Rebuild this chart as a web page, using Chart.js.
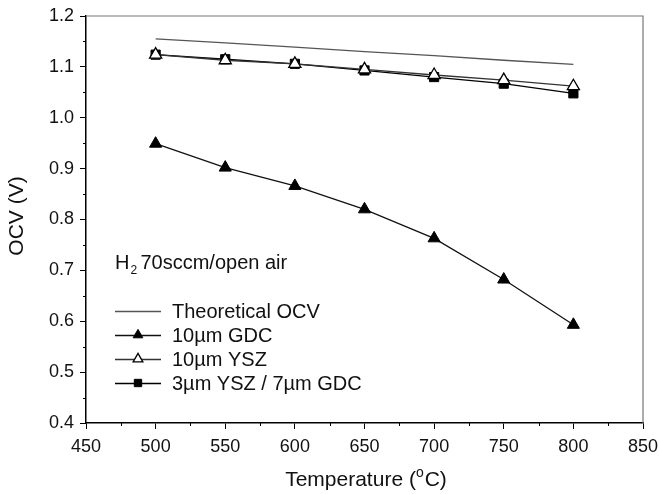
<!DOCTYPE html>
<html>
<head>
<meta charset="utf-8">
<script src="https://cdn.jsdelivr.net/npm/chart.js@4"></script>
<style>
  html, body { margin: 0; padding: 0; background: #fff; }
  #wrap { width: 659px; height: 494px; }
</style>
</head>
<body>
<div id="wrap"><canvas id="ocvChart"></canvas></div>
<script>
const temperatures = [500, 550, 600, 650, 700, 750, 800];
const theoreticalOcv = [1.155, 1.147, 1.139, 1.130, 1.122, 1.113, 1.105];
const gdcOcv = [0.949, 0.902, 0.866, 0.820, 0.763, 0.682, 0.593];
const yszOcv = [1.124, 1.113, 1.106, 1.095, 1.084, 1.074, 1.062];
const bilayerOcv = [1.124, 1.115, 1.106, 1.093, 1.080, 1.067, 1.048];

const seriesLabels = ['Theoretical OCV', '10\u00b5m GDC', '10\u00b5m YSZ', '3\u00b5m YSZ / 7\u00b5m GDC'];
const xTicks = [450, 500, 550, 600, 650, 700, 750, 800, 850];
const yTicks = [0.4, 0.5, 0.6, 0.7, 0.8, 0.9, 1.0, 1.1, 1.2];

const FONT = 'Liberation Sans, Arial, sans-serif';

const toPoints = values => temperatures.map((t, i) => ({ x: t, y: values[i] }));

// minor ticks, frame, titles, note and legend drawn by hand
const decorations = {
  id: 'decorations',
  afterDraw(chart) {
    const { ctx, chartArea: area, scales } = chart;
    const xs = scales.x;
    const ys = scales.y;
    ctx.save();

    // grey top / right frame
    ctx.strokeStyle = '#777';
    ctx.lineWidth = 1.2;
    ctx.beginPath();
    ctx.moveTo(area.left, area.top);
    ctx.lineTo(area.right, area.top);
    ctx.lineTo(area.right, area.bottom);
    ctx.stroke();

    // minor ticks
    ctx.strokeStyle = '#000';
    ctx.lineWidth = 1;
    ctx.beginPath();
    for (let i = 0; i < xTicks.length - 1; i += 1) {
      const px = Math.round(xs.getPixelForValue((xTicks[i] + xTicks[i + 1]) / 2)) + 0.5;
      ctx.moveTo(px, area.bottom);
      ctx.lineTo(px, area.bottom + 3);
    }
    for (let i = 0; i < yTicks.length - 1; i += 1) {
      const py = Math.round(ys.getPixelForValue((yTicks[i] + yTicks[i + 1]) / 2)) + 0.5;
      ctx.moveTo(area.left, py);
      ctx.lineTo(area.left - 3, py);
    }
    ctx.stroke();

    ctx.fillStyle = '#111';

    // x title with superscript o
    ctx.textBaseline = 'alphabetic';
    ctx.textAlign = 'left';
    const partA = 'Temperature (';
    const partB = 'C)';
    ctx.font = '21px ' + FONT;
    const wA = ctx.measureText(partA).width;
    const wB = ctx.measureText(partB).width;
    ctx.font = '14px ' + FONT;
    const wO = ctx.measureText('o').width;
    const total = wA + wO + 1 + wB;
    const tx = 366 - total / 2;
    const ty = 486;
    ctx.font = '21px ' + FONT;
    ctx.fillText(partA, tx, ty);
    ctx.font = '14px ' + FONT;
    ctx.fillText('o', tx + wA, ty - 9);
    ctx.font = '21px ' + FONT;
    ctx.fillText(partB, tx + wA + wO + 1, ty);

    // y title
    ctx.save();
    ctx.translate(23, 216);
    ctx.rotate(-Math.PI / 2);
    ctx.textAlign = 'center';
    ctx.font = '21px ' + FONT;
    ctx.fillText('OCV (V)', 0, 0);
    ctx.restore();

    // condition note: H2 70sccm/open air
    ctx.font = '20px ' + FONT;
    ctx.textAlign = 'left';
    const nx = 115;
    const ny = 269;
    ctx.fillText('H', nx, ny);
    const wH = ctx.measureText('H').width;
    ctx.font = '12px ' + FONT;
    ctx.fillText('2', nx + wH + 1, ny + 5);
    ctx.font = '20px ' + FONT;
    ctx.fillText('70sccm/open air', nx + wH + 11, ny);

    // legend
    const rows = [311, 335, 359, 383];
    chart.data.datasets.forEach((ds, i) => {
      const y = rows[i];
      ctx.strokeStyle = ds.borderColor;
      ctx.lineWidth = ds.borderWidth;
      ctx.beginPath();
      ctx.moveTo(115, y + 0.5);
      ctx.lineTo(161, y + 0.5);
      ctx.stroke();
      if (ds.pointRadius > 0) {
        ctx.fillStyle = ds.pointBackgroundColor;
        ctx.strokeStyle = ds.pointBorderColor;
        ctx.lineWidth = ds.pointBorderWidth;
        Chart.helpers.drawPoint(ctx, {
          pointStyle: ds.pointStyle,
          radius: ds.pointRadius * 0.8,
          borderWidth: ds.pointBorderWidth,
          rotation: 0,
        }, 138, y);
      }
      ctx.fillStyle = '#111';
      ctx.font = '20px ' + FONT;
      ctx.textAlign = 'left';
      ctx.textBaseline = 'middle';
      ctx.fillText(ds.label, 172, y + 1);
    });

    ctx.restore();
  },
};

const ctx = document.getElementById('ocvChart').getContext('2d');
const chart = new Chart(ctx, {
  type: 'line',
  data: {
    datasets: [
      {
        label: seriesLabels[0],
        data: toPoints(theoreticalOcv),
        borderColor: '#555',
        borderWidth: 1.3,
        pointRadius: 0,
        order: 4,
      },
      {
        label: seriesLabels[1],
        data: toPoints(gdcOcv),
        borderColor: '#111',
        borderWidth: 1.3,
        pointStyle: 'triangle',
        pointRadius: 7,
        pointBackgroundColor: '#000',
        pointBorderColor: '#000',
        pointBorderWidth: 1,
        order: 1,
      },
      {
        label: seriesLabels[2],
        data: toPoints(yszOcv),
        borderColor: '#333',
        borderWidth: 1.3,
        pointStyle: 'triangle',
        pointRadius: 7,
        pointBackgroundColor: '#fff',
        pointBorderColor: '#000',
        pointBorderWidth: 1.3,
        order: 2,
      },
      {
        label: seriesLabels[3],
        data: toPoints(bilayerOcv),
        borderColor: '#000',
        borderWidth: 1.3,
        pointStyle: 'rect',
        pointRadius: 6.5,
        pointBackgroundColor: '#000',
        pointBorderColor: '#000',
        pointBorderWidth: 1,
        order: 3,
      },
    ],
  },
  options: {
    responsive: true,
    maintainAspectRatio: false,
    animation: false,
    devicePixelRatio: 1,
    layout: { padding: { top: 16, right: 16, left: 0, bottom: 0 } },
    plugins: {
      legend: { display: false },
      tooltip: { enabled: false },
    },
    scales: {
      x: {
        type: 'linear',
        min: 450,
        max: 850,
        afterBuildTicks: scale => { scale.ticks = xTicks.map(v => ({ value: v })); },
        afterFit: scale => {
          scale.height = 71;
          scale.paddingLeft = 0;
          scale.paddingRight = 0;
        },
        grid: { drawOnChartArea: false, drawTicks: true, tickLength: 6, color: '#000', lineWidth: 1 },
        border: { display: true, color: '#000', width: 1.5 },
        ticks: { color: '#111', font: { family: FONT, size: 18 }, padding: 7, maxRotation: 0 },
      },
      y: {
        type: 'linear',
        min: 0.4,
        max: 1.2,
        afterBuildTicks: scale => { scale.ticks = yTicks.map(v => ({ value: v })); },
        afterFit: scale => {
          scale.width = 86;
          scale.paddingTop = 0;
          scale.paddingBottom = 0;
        },
        grid: { drawOnChartArea: false, drawTicks: true, tickLength: 6, color: '#000', lineWidth: 1 },
        border: { display: true, color: '#000', width: 1.5 },
        ticks: { color: '#111', font: { family: FONT, size: 18 }, padding: 6, callback: v => v.toFixed(1) },
      },
    },
  },
  plugins: [decorations],
});
</script>
</body>
</html>
